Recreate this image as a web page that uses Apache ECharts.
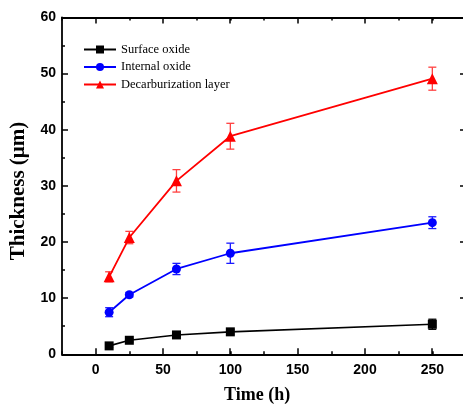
<!DOCTYPE html>
<html><head><meta charset="utf-8">
<script src="https://cdn.jsdelivr.net/npm/echarts@6/dist/echarts.min.js"></script>
<style>html,body{margin:0;padding:0;background:#fff;overflow:hidden}#c{width:470px;height:408px}</style>
</head><body><div id="c"></div>
<script>
const times = [10, 25, 60, 100, 250];
const surfaceOxide = [1.5, 2.5, 3.45, 4.0, 5.35];
const surfaceErr = [0.3, 0.3, 0.3, 0.4, 0.9];
const internalOxide = [7.5, 10.6, 15.2, 18.0, 23.45];
const internalErr = [0.8, 0.4, 1.0, 1.8, 1.05];
const decarbLayer = [13.8, 20.8, 30.9, 38.85, 49.1];
const decarbErr = [0.9, 1.1, 2.0, 2.3, 2.05];
const seriesNames = ['Surface oxide', 'Internal oxide', 'Decarburization layer'];
const xLabels = [0, 50, 100, 150, 200, 250];

const chart = echarts.init(document.getElementById('c'));
const pairs = (ys) => times.map((t, i) => [t, ys[i]]);
const errData = (ys, es) => times.map((t, i) => [t, ys[i] - es[i], ys[i] + es[i]]);
function errSeries(ys, es, color) {
  return {
    type: 'custom', xAxisIndex: 0, yAxisIndex: 0, z: 1, silent: true,
    data: errData(ys, es),
    renderItem: function (params, api) {
      const lo = api.coord([api.value(0), api.value(1)]);
      const hi = api.coord([api.value(0), api.value(2)]);
      const w = 4;
      const st = { stroke: color, lineWidth: 1.3 };
      return { type: 'group', children: [
        { type: 'line', shape: { x1: lo[0], y1: lo[1], x2: hi[0], y2: hi[1] }, style: st },
        { type: 'line', shape: { x1: lo[0] - w, y1: lo[1], x2: lo[0] + w, y2: lo[1] }, style: st },
        { type: 'line', shape: { x1: hi[0] - w, y1: hi[1], x2: hi[0] + w, y2: hi[1] }, style: st }
      ]};
    }
  };
}
const axisFont = { fontFamily: 'Liberation Sans, Arial', fontWeight: 'bold', fontSize: 14, color: '#000' };
const lineStyleAxis = { color: '#000', width: 1.8 };
const gridTop = 17.5, gridBottom = 53.7;
const option = {
  animation: false,
  backgroundColor: '#fff',
  grid: [
    { left: 62, top: gridTop, width: 404, bottom: gridBottom, containLabel: false },
    { left: 95.3, top: gridTop, width: 336.7, bottom: gridBottom, containLabel: false }
  ],
  legend: {
    orient: 'vertical', left: 78, top: 38, itemGap: 4.5, itemWidth: 32, itemHeight: 10,
    data: seriesNames,
    textStyle: { fontFamily: 'Liberation Serif, Times New Roman', fontSize: 12.5, color: '#000', padding: [0, 0, 0, 0] }
  },
  xAxis: [
    { type: 'value', gridIndex: 0, position: 'bottom', min: -25, max: 275, interval: 25,
      axisLine: { show: true, onZero: false, lineStyle: lineStyleAxis },
      axisTick: { show: true, inside: true, length: 3, lineStyle: { color: '#000', width: 1.5 } },
      axisLabel: Object.assign({ margin: 9, formatter: v => (xLabels.indexOf(v) >= 0 ? String(v) : '') }, axisFont),
      splitLine: { show: false } },
    { type: 'value', gridIndex: 0, position: 'top', min: -25, max: 275, interval: 25,
      axisLine: { show: true, onZero: false, lineStyle: lineStyleAxis },
      axisTick: { show: true, inside: true, length: 3, lineStyle: { color: '#000', width: 1.5 } },
      axisLabel: { show: false }, splitLine: { show: false } },
    { type: 'value', gridIndex: 1, position: 'bottom', min: 0, max: 250, interval: 50,
      axisLine: { show: false, onZero: false },
      axisTick: { show: true, inside: true, length: 6, lineStyle: { color: '#000', width: 1.5 } },
      axisLabel: { show: false }, splitLine: { show: false } },
    { type: 'value', gridIndex: 1, position: 'top', min: 0, max: 250, interval: 50,
      axisLine: { show: false, onZero: false },
      axisTick: { show: true, inside: true, length: 6, lineStyle: { color: '#000', width: 1.5 } },
      axisLabel: { show: false }, splitLine: { show: false } }
  ],
  yAxis: [
    { type: 'value', gridIndex: 0, position: 'left', min: 0, max: 60, interval: 10,
      axisLine: { show: true, onZero: false, lineStyle: lineStyleAxis },
      axisTick: { show: true, inside: true, length: 6, lineStyle: { color: '#000', width: 1.5 } },
      minorTick: { show: true, splitNumber: 2, length: 3, lineStyle: { color: '#000', width: 1.5 } },
      axisLabel: Object.assign({ margin: 6 }, axisFont),
      splitLine: { show: false }, minorSplitLine: { show: false } },
    { type: 'value', gridIndex: 0, position: 'right', min: 0, max: 60, interval: 10,
      axisLine: { show: true, onZero: false, lineStyle: lineStyleAxis },
      axisTick: { show: true, inside: true, length: 6, lineStyle: { color: '#000', width: 1.5 } },
      minorTick: { show: true, splitNumber: 2, length: 3, lineStyle: { color: '#000', width: 1.5 } },
      axisLabel: { show: false }, splitLine: { show: false }, minorSplitLine: { show: false } },
    { type: 'value', gridIndex: 1, min: 0, max: 60, show: false }
  ],
  graphic: [
    { type: 'text', left: 224, top: 386, style: { text: 'Time (h)', font: 'bold 18px "Liberation Serif", "Times New Roman", serif', fill: '#000' } },
    { type: 'text', x: 19, y: 191, rotation: Math.PI / 2, style: { text: 'Thickness (μm)', font: 'bold 21px "Liberation Serif", "Times New Roman", serif', fill: '#000', align: 'center', verticalAlign: 'middle' } }
  ],
  series: [
    errSeries(surfaceOxide, surfaceErr, '#000000'),
    errSeries(internalOxide, internalErr, '#1a1aff'),
    errSeries(decarbLayer, decarbErr, '#ff4040'),
    { name: seriesNames[0], type: 'line', xAxisIndex: 0, yAxisIndex: 0, z: 3, data: pairs(surfaceOxide),
      symbol: 'rect', symbolSize: 9, color: '#000000', lineStyle: { width: 1.6, color: '#000' }, itemStyle: { color: '#000' } },
    { name: seriesNames[1], type: 'line', xAxisIndex: 0, yAxisIndex: 0, z: 3, data: pairs(internalOxide),
      symbol: 'circle', symbolSize: 9, color: '#0000ff', lineStyle: { width: 1.8, color: '#0000ff' }, itemStyle: { color: '#0000ff' } },
    { name: seriesNames[2], type: 'line', xAxisIndex: 0, yAxisIndex: 0, z: 3, data: pairs(decarbLayer),
      symbol: 'triangle', symbolSize: 11, color: '#ff0000', lineStyle: { width: 1.8, color: '#ff0000' }, itemStyle: { color: '#ff0000' } }
  ]
};
chart.setOption(option);
</script></body></html>
